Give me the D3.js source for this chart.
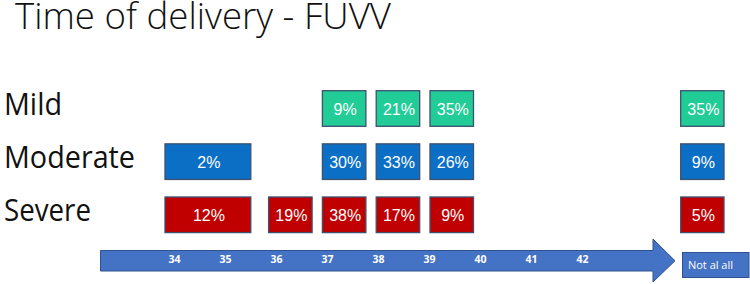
<!DOCTYPE html>
<html>
<head>
<meta charset="utf-8">
<script src="https://cdn.jsdelivr.net/npm/d3@7/dist/d3.min.js"></script>
<style>
  body { margin: 0; background: #fff; }
  svg { display: block; }
</style>
</head>
<body>
<div id="chart"></div>
<script>
const title = 'Time of delivery - FUVV';
const rows = ['Mild', 'Moderate', 'Severe'];
const columns = ['34-35', '36', '37', '38', '39', 'none'];
const mild = [null, null, 9, 21, 35, 35];
const moderate = [2, null, 30, 33, 26, 9];
const severe = [12, 19, 38, 17, 9, 5];
const weeks = ['34', '35', '36', '37', '38', '39', '40', '41', '42'];
const noneLabel = 'Not al all';

const colors = {Mild: '#21cc97', Moderate: '#0b6fc6', Severe: '#c00000'};
const series = {Mild: mild, Moderate: moderate, Severe: severe};

const w = 750;
const h = 284;

const svg = d3.select('#chart').append('svg')
  .attr('width', w)
  .attr('height', h);

svg.append('text')
  .attr('x', 15)
  .attr('y', 29)
  .attr('font-family', 'Open Sans')
  .attr('font-weight', 300)
  .attr('font-size', 36)
  .attr('textLength', 376)
  .attr('lengthAdjust', 'spacingAndGlyphs')
  .attr('fill', '#111')
  .text(title);

// week scale for the arrow labels, box scale for the cells
const x = d3.scaleLinear().domain([34, 42]).range([174, 582]);
const xb = d3.scaleLinear().domain([34, 39]).range([161, 430]);
const boxW = 43.5;

const y = d3.scaleBand()
  .domain(rows)
  .range([90.7, 232.6])
  .paddingInner(0.33);

function colExtent(c) {
  if (c === 'none') return [680.7, 724];
  const parts = c.split('-').map(Number);
  if (parts.length === 2) return [xb(parts[0]) + 4, xb(parts[1]) + 36];
  return [xb(parts[0]), xb(parts[0]) + boxW];
}

// row labels
const labelLen = {Mild: 58, Moderate: 131, Severe: 87};
svg.append('g').selectAll('text')
  .data(rows)
  .enter().append('text')
    .attr('x', 4)
    .attr('y', d => y(d) + 24.5)
    .attr('font-family', 'Open Sans')
    .attr('font-size', 30.5)
    .attr('textLength', d => labelLen[d])
    .attr('lengthAdjust', 'spacingAndGlyphs')
    .attr('fill', '#111')
    .text(d => d);

// cells
const cells = [];
rows.forEach(r => {
  series[r].forEach((v, i) => {
    if (v !== null) cells.push({row: r, col: columns[i], value: v});
  });
});

const cell = svg.append('g').selectAll('.cell')
  .data(cells)
  .enter().append('g')
    .attr('class', 'cell');

cell.append('rect')
  .attr('x', d => colExtent(d.col)[0])
  .attr('y', d => y(d.row))
  .attr('width', d => colExtent(d.col)[1] - colExtent(d.col)[0])
  .attr('height', y.bandwidth())
  .attr('fill', d => colors[d.row])
  .attr('stroke', '#3d5170')
  .attr('stroke-width', 1.3);

cell.append('text')
  .attr('x', d => (colExtent(d.col)[0] + colExtent(d.col)[1]) / 2 + 1)
  .attr('y', d => y(d.row) + y.bandwidth() / 2 + 6.5)
  .attr('text-anchor', 'middle')
  .attr('font-family', 'Liberation Sans, Arial, sans-serif')
  .attr('font-size', 16)
  .attr('fill', '#fff')
  .text(d => d.value + '%');

// arrow
const arrowTop = 250.5;
const arrowBot = 271;
const headX = 653;
const tipX = 675;
svg.append('path')
  .attr('d', `M100.5,${arrowTop}L${headX},${arrowTop}L${headX},239L${tipX},${(arrowTop + arrowBot) / 2}` +
    `L${headX},282L${headX},${arrowBot}L100.5,${arrowBot}Z`)
  .attr('fill', '#4472c4')
  .attr('stroke', '#2f528f')
  .attr('stroke-width', 1);

const axis = svg.append('g')
  .attr('transform', `translate(0, ${(arrowTop + arrowBot) / 2 - 10})`)
  .call(d3.axisBottom(x).tickValues(weeks.map(Number)).tickSize(0).tickPadding(0)
    .tickFormat((d, i) => weeks[i]));
axis.select('.domain').remove();
axis.selectAll('text')
  .attr('dy', '0.71em')
  .attr('y', 5)
  .attr('font-family', 'Open Sans')
  .attr('font-weight', 700)
  .attr('font-size', 10.5)
  .attr('fill', '#fff');

// "not at all" tag
svg.append('rect')
  .attr('x', 682.5)
  .attr('y', 252.5)
  .attr('width', 66.5)
  .attr('height', 25)
  .attr('fill', '#4472c4')
  .attr('stroke', '#2f528f')
  .attr('stroke-width', 1);

svg.append('text')
  .attr('x', 688)
  .attr('y', 269)
  .attr('font-family', 'Open Sans')
  .attr('font-size', 11.5)
  .attr('textLength', 45)
  .attr('lengthAdjust', 'spacingAndGlyphs')
  .attr('fill', '#fff')
  .text(noneLabel);
</script>
</body>
</html>
